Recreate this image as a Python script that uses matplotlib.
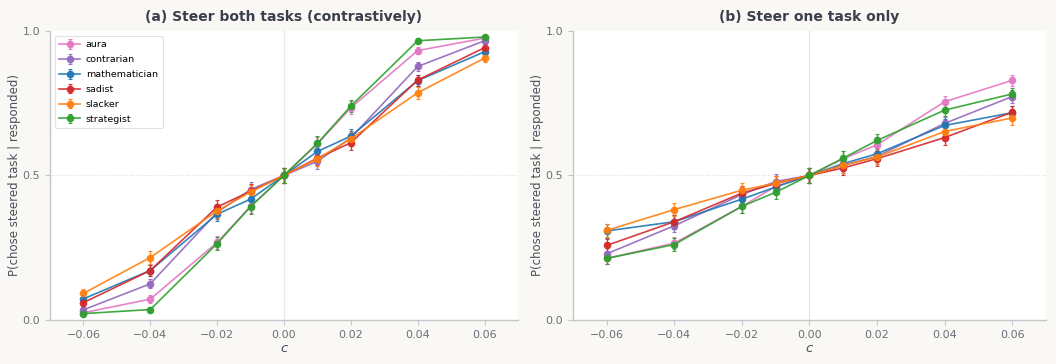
import numpy as np
import matplotlib.pyplot as plt

c_vals = [-0.06, -0.04, -0.02, -0.01, 0.0, 0.01, 0.02, 0.04, 0.06]
personas = ['aura', 'contrarian', 'mathematician', 'sadist', 'slacker', 'strategist']
colors = ['#e377c2', '#9467bd', '#1f77b4', '#d62728', '#ff7f0e', '#2ca02c']

# (a) both tasks steered contrastively
both_aura = [0.025, 0.072, 0.268, 0.393, 0.50, 0.609, 0.734, 0.932, 0.975]
both_contrarian = [0.035, 0.125, 0.372, 0.451, 0.50, 0.549, 0.630, 0.877, 0.966]
both_mathematician = [0.073, 0.171, 0.366, 0.418, 0.50, 0.583, 0.636, 0.828, 0.928]
both_sadist = [0.060, 0.171, 0.391, 0.445, 0.50, 0.560, 0.613, 0.830, 0.942]
both_slacker = [0.092, 0.216, 0.377, 0.443, 0.50, 0.557, 0.627, 0.786, 0.906]
both_strategist = [0.022, 0.036, 0.264, 0.392, 0.50, 0.611, 0.740, 0.966, 0.979]

both_err_aura = [0.008, 0.013, 0.022, 0.024, 0.025, 0.024, 0.022, 0.012, 0.008]
both_err_contrarian = [0.009, 0.016, 0.024, 0.025, 0.025, 0.025, 0.024, 0.016, 0.009]
both_err_mathematician = [0.013, 0.019, 0.024, 0.025, 0.025, 0.025, 0.024, 0.019, 0.013]
both_err_sadist = [0.012, 0.019, 0.024, 0.025, 0.025, 0.025, 0.024, 0.019, 0.012]
both_err_slacker = [0.014, 0.021, 0.024, 0.025, 0.025, 0.025, 0.024, 0.020, 0.014]
both_err_strategist = [0.007, 0.009, 0.022, 0.024, 0.025, 0.024, 0.022, 0.009, 0.007]

# (b) only one task steered
one_aura = [0.213, 0.266, 0.393, 0.462, 0.50, 0.558, 0.606, 0.755, 0.829]
one_contrarian = [0.229, 0.326, 0.434, 0.479, 0.50, 0.535, 0.566, 0.680, 0.773]
one_mathematician = [0.308, 0.340, 0.418, 0.460, 0.50, 0.541, 0.575, 0.673, 0.717]
one_sadist = [0.258, 0.340, 0.439, 0.472, 0.50, 0.526, 0.558, 0.631, 0.719]
one_slacker = [0.310, 0.382, 0.449, 0.473, 0.50, 0.535, 0.564, 0.652, 0.699]
one_strategist = [0.213, 0.261, 0.393, 0.442, 0.50, 0.560, 0.621, 0.726, 0.782]

one_err_aura = [0.020, 0.022, 0.024, 0.025, 0.025, 0.025, 0.024, 0.021, 0.019]
one_err_contrarian = [0.021, 0.023, 0.025, 0.025, 0.025, 0.025, 0.025, 0.023, 0.021]
one_err_mathematician = [0.023, 0.024, 0.025, 0.025, 0.025, 0.025, 0.025, 0.023, 0.022]
one_err_sadist = [0.022, 0.024, 0.025, 0.025, 0.025, 0.025, 0.025, 0.024, 0.022]
one_err_slacker = [0.023, 0.024, 0.025, 0.025, 0.025, 0.025, 0.025, 0.024, 0.023]
one_err_strategist = [0.020, 0.022, 0.024, 0.025, 0.025, 0.025, 0.024, 0.022, 0.021]

panels = [
    ('(a) Steer both tasks (contrastively)',
     [both_aura, both_contrarian, both_mathematician, both_sadist, both_slacker, both_strategist],
     [both_err_aura, both_err_contrarian, both_err_mathematician, both_err_sadist,
      both_err_slacker, both_err_strategist]),
    ('(b) Steer one task only',
     [one_aura, one_contrarian, one_mathematician, one_sadist, one_slacker, one_strategist],
     [one_err_aura, one_err_contrarian, one_err_mathematician, one_err_sadist,
      one_err_slacker, one_err_strategist]),
]

bg = '#f9f8f5'
spine_col = '#c4c6cc'
tick_col = '#6b6f78'
title_col = '#3a3f4b'

fig = plt.figure(figsize=(10.56, 3.64), dpi=100, facecolor=bg)
axes = [fig.add_axes([0.0473, 0.121, 0.4432, 0.794]),
        fig.add_axes([0.5426, 0.121, 0.4479, 0.794])]

for k, (ax, (title, series, errs)) in enumerate(zip(axes, panels)):
    ax.set_facecolor('white')
    ax.axvline(0, color='#e6e6e6', lw=0.9, zorder=0)
    ax.axhline(0.5, color='#d8d8d8', lw=0.8, ls=':', zorder=0)
    for name, col, vals, err in zip(personas, colors, series, errs):
        ax.errorbar(c_vals, vals, yerr=err, color=col, marker='o', ms=4.5,
                    lw=1.2, elinewidth=1.0, capsize=1.5, capthick=0.8,
                    alpha=0.9, label=name)
    ax.set_xlim(-0.07, 0.07)
    ax.set_ylim(0, 1.0)
    ax.set_xticks([-0.06, -0.04, -0.02, 0.0, 0.02, 0.04, 0.06])
    ax.set_yticks([0.0, 0.5, 1.0])
    ax.set_xticklabels(['\u22120.06', '\u22120.04', '\u22120.02', '0.00', '0.02', '0.04', '0.06'])
    for side in ['top', 'right']:
        ax.spines[side].set_visible(False)
    for side in ['left', 'bottom']:
        ax.spines[side].set_color(spine_col)
        ax.spines[side].set_linewidth(1.0)
    ax.tick_params(colors=spine_col, labelcolor=tick_col, labelsize=8, length=3.5, width=0.8)
    ax.set_title(title, fontsize=10, fontweight='bold', color=title_col, pad=7)
    ax.set_xlabel('c', fontsize=9.5, style='italic', color='#4a4f5a', labelpad=2)
    ax.set_ylabel('P(chose steered task | responded)', fontsize=8.5, color='#4a4f5a', labelpad=1)
    if k == 0:
        leg = ax.legend(loc='upper left', fontsize=6.8, frameon=True, framealpha=1,
                        edgecolor='#e2e2e2', handlelength=2.2, handletextpad=0.6,
                        borderpad=0.5, labelspacing=0.62, fancybox=True)
        leg.get_frame().set_linewidth(0.8)

fig.savefig('out.png', dpi=100, facecolor=bg)
plt.close(fig)
